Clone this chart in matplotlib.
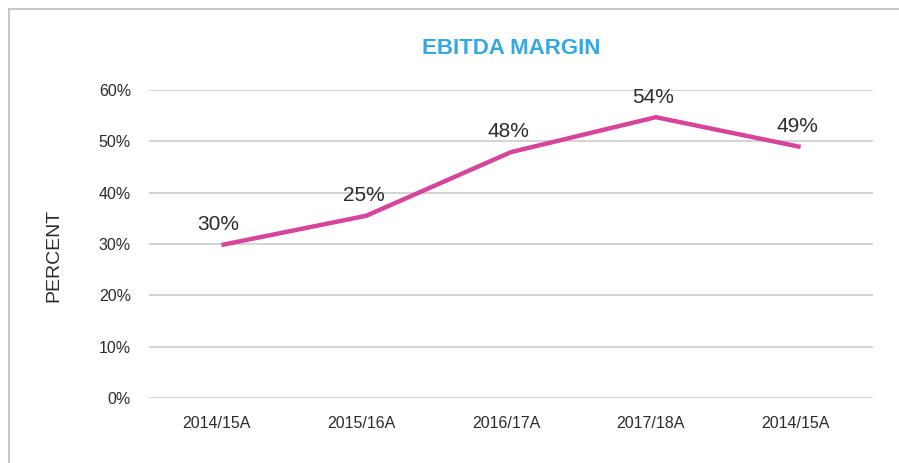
import matplotlib
matplotlib.use("Agg")
import matplotlib.pyplot as plt
import matplotlib.transforms as mtransforms
from matplotlib.lines import Line2D

plt.rcParams['font.family'] = ['Liberation Sans', 'DejaVu Sans']

# data
years = ['2014/15A', '2015/16A', '2016/17A', '2017/18A', '2014/15A']
margin = [29.8, 35.5, 47.9, 54.7, 48.9]
point_labels = ['30%', '25%', '48%', '54%', '49%']
yticks = [0, 10, 20, 30, 40, 50, 60]

W, H = 899, 463
fig = plt.figure(figsize=(W / 100, H / 100), dpi=100)
fig.patch.set_facecolor('white')

# frame lines (left and top only)
fig.add_artist(Line2D([9 / W, 9 / W], [0, 1 - 9 / H], color='#bdbdbd', lw=1.2,
                      transform=fig.transFigure))
fig.add_artist(Line2D([9 / W, 1], [1 - 9 / H, 1 - 9 / H], color='#bdbdbd', lw=1.2,
                      transform=fig.transFigure))

ax = fig.add_axes([149 / W, 1 - 398 / H, (873 - 149) / W, (398 - 90) / H])
x = list(range(len(years)))
ax.plot(x, margin, color='#d6449b', lw=3.2, solid_capstyle='butt', zorder=3)

for xi, yi, lab in zip(x, margin, point_labels):
    ax.annotate(lab, (xi, yi), xytext=(-2, 14.5), textcoords='offset points',
                ha='center', va='center', fontsize=15, color='#2b2b2b')

ax.set_xlim(-0.5, len(years) - 0.5)
ax.set_ylim(0, 60)
ax.set_yticks(yticks)
ax.set_yticklabels(['%d%%' % v for v in yticks], fontsize=11.5, color='#2b2b2b')
ax.set_xticks(x)
ax.set_xticklabels(years, fontsize=11.5, color='#2b2b2b')
ax.tick_params(axis='both', length=0)
ax.tick_params(axis='y', pad=13)
ax.tick_params(axis='x', pad=13)
off = mtransforms.ScaledTranslation(-5 / 100, 0, fig.dpi_scale_trans)
for t in ax.get_xticklabels():
    t.set_transform(t.get_transform() + off)

ax.grid(axis='y', color='#c8c8c8', lw=1.1)
ax.set_axisbelow(True)
for s in ax.spines.values():
    s.set_visible(False)

fig.text(53.5 / W, 1 - 255 / H, 'PERCENT', rotation=90, ha='center', va='center',
         fontsize=14, color='#2b2b2b')
fig.text(511 / W, 1 - 48 / H, 'EBITDA MARGIN', ha='center', va='center',
         fontsize=16, fontweight='bold', color='#35a8df')

fig.savefig('out.png', dpi=100)
